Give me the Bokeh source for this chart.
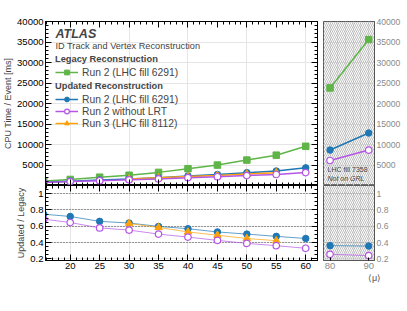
from bokeh.plotting import figure
from bokeh.models import (Range1d, LinearAxis, FixedTicker,
                          PrintfTickFormatter, Legend, LegendItem, Label, BoxAnnotation, Grid)
from bokeh.layouts import gridplot
from bokeh.embed import file_html
from bokeh.resources import INLINE

# ---------------- data ----------------
mu = [15.5, 20, 25, 30, 35, 40, 45, 50, 55, 60]
mu_run3 = [30, 35, 40, 45, 50, 55]
mu_fill7358 = [80, 90]

legacy_run2 = [1050, 1470, 2030, 2500, 3200, 4100, 4980, 6200, 7400, 9560]
updated_run2 = [790, 1060, 1340, 1600, 1910, 2330, 2680, 3130, 3530, 4300]
updated_nolrt = [720, 950, 1180, 1380, 1610, 1910, 2130, 2420, 2680, 3160]
updated_run3 = [1590, 1870, 2170, 2440, 2790, 3120]

legacy_7358 = [23800, 35600]
updated_7358 = [8650, 12800]
nolrt_7358 = [6100, 8650]

ratio_run2 = [0.748, 0.72, 0.66, 0.64, 0.598, 0.57, 0.53, 0.504, 0.476, 0.45]
ratio_nolrt = [0.687, 0.646, 0.58, 0.553, 0.504, 0.467, 0.427, 0.39, 0.362, 0.33]
ratio_run3 = [0.634, 0.585, 0.53, 0.49, 0.45, 0.423]
ratio_run2_7358 = [0.362, 0.357]
ratio_nolrt_7358 = [0.256, 0.24]

cpu_ticks = [5000, 10000, 15000, 20000, 25000, 30000, 35000, 40000]
cpu_minor = list(range(0, 40001, 1000))
ratio_ticks = [0.2, 0.4, 0.6, 0.8, 1.0]
ratio_minor = [round(0.05 * i, 2) for i in range(3, 23)]
grid_ticks = [0.4, 0.6, 0.8, 1.0]
mu_major = [20, 25, 30, 35, 40, 45, 50, 55, 60]
mu_minor = list(range(16, 63))
fill_ticks = [80, 90]

GREEN, BLUE, PURPLE, ORANGE = "#5fb548", "#1f77b4", "#b455e6", "#ffa20a"
FONT = "Liberation Sans"
GREY = "#8a8a8a"

# ---------------- helpers ----------------
def base_fig(fw, fh, xr, yr, **kw):
    p = figure(frame_width=fw, frame_height=fh, x_range=xr, y_range=yr,
               output_backend="svg", toolbar_location=None,
               x_axis_location=None, y_axis_location=None, **kw)
    p.outline_line_color = "black"
    p.background_fill_color = "white"
    p.border_fill_color = "white"
    return p

def axis(ticker, size="9.5px", color="black", tick_in=6, minor_in=3, **kw):
    a = LinearAxis(ticker=ticker, **kw)
    a.major_tick_in = tick_in
    a.major_tick_out = 0
    a.minor_tick_in = minor_in
    a.minor_tick_out = 0
    a.axis_line_color = "black"
    a.major_tick_line_color = "black"
    a.minor_tick_line_color = "black"
    a.major_label_text_font = FONT
    a.major_label_text_color = color
    a.major_label_text_font_size = size
    a.major_label_standoff = 2
    a.axis_label_text_font = FONT
    a.axis_label_text_font_style = "normal"
    a.axis_label_text_font_size = "9px"
    a.axis_label_standoff = 1
    return a

def tick_only(p, side, majors, minors):
    # label-free tick marks on a frame edge (minor-tick channel only, so no labels exist)
    for pos, length in ((minors, 3), (majors, 6)):
        a = LinearAxis(ticker=FixedTicker(ticks=[], minor_ticks=pos))
        a.major_label_standoff = 0
        a.major_tick_out = 0
        a.major_tick_in = 0
        a.minor_tick_out = 0
        a.minor_tick_in = length
        a.axis_line_color = "black"
        a.minor_tick_line_color = "black"
        p.add_layout(a, side)

xr_main = Range1d(15.8, 62)
xr_fill = Range1d(78.3, 91.5)
yr_cpu = Range1d(0, 40000)
yr_ratio = Range1d(0.18, 1.1)

def x_ticker():
    return FixedTicker(ticks=mu_major, minor_ticks=mu_minor)

# ---------------- top main ----------------
p_top = base_fig(272, 164, xr_main, yr_cpu, min_border_left=40, min_border_right=6,
                 min_border_top=21, min_border_bottom=0)
p_top.add_layout(axis(FixedTicker(ticks=cpu_ticks, minor_ticks=cpu_minor),
                      axis_label="CPU Time / Event [ms]"), "left")
tick_only(p_top, "right", cpu_ticks, cpu_minor)
tick_only(p_top, "above", mu_major, mu_minor)
tick_only(p_top, "below", mu_major, mu_minor)

gl = p_top.line(mu, legacy_run2, color=GREEN, line_width=1.5)
gs = p_top.scatter(mu, legacy_run2, marker="square", size=6.5, color=GREEN)
bl = p_top.line(mu, updated_run2, color=BLUE, line_width=1.5)
bs = p_top.scatter(mu, updated_run2, marker="circle", size=6.5, color=BLUE)
ol = p_top.line(mu_run3, updated_run3, color=ORANGE, line_width=1.5)
os_ = p_top.scatter(mu_run3, updated_run3, marker="triangle", size=7.5, color=ORANGE)
pl = p_top.line(mu, updated_nolrt, color=PURPLE, line_width=1.5)
ps = p_top.scatter(mu, updated_nolrt, marker="circle", size=6.5, line_color=PURPLE,
                   fill_color="white", line_width=1.2)

def legend(title, items, y):
    lg = Legend(items=items, title=title, location=(10, y))
    lg.title_text_font = FONT
    lg.title_text_font_style = "bold"
    lg.title_text_font_size = "9.3px"
    lg.title_standoff = 2
    lg.label_text_font = FONT
    lg.label_text_font_size = "10.3px"
    lg.label_height = 12
    lg.glyph_height = 12
    lg.glyph_width = 23
    lg.label_standoff = 4
    lg.spacing = 0
    lg.padding = 0
    lg.margin = 0
    lg.border_line_alpha = 0
    lg.background_fill_alpha = 0
    return lg

p_top.add_layout(legend("Legacy Reconstruction",
                        [LegendItem(label="Run 2 (LHC fill 6291)", renderers=[gl, gs])], 107))
p_top.add_layout(legend("Updated Reconstruction",
                        [LegendItem(label="Run 2 (LHC fill 6291)", renderers=[bl, bs]),
                         LegendItem(label="Run 2 without LRT", renderers=[pl, ps]),
                         LegendItem(label="Run 3 (LHC fill 8112)", renderers=[ol, os_])], 56))

p_top.add_layout(Label(x=10, y=151.5, x_units="screen", y_units="screen", text="ATLAS",
                       text_font=FONT, text_font_style="bold italic", text_font_size="12.5px",
                       text_baseline="middle"))
p_top.add_layout(Label(x=10, y=139.3, x_units="screen", y_units="screen",
                       text="ID Track and Vertex Reconstruction",
                       text_font=FONT, text_font_size="9.2px", text_baseline="middle"))

# ---------------- top right ----------------
p_tr = base_fig(51, 164, xr_fill, yr_cpu, min_border_left=0, min_border_right=27,
                min_border_top=21, min_border_bottom=0)
p_tr.outline_line_color = "#555555"
p_tr.add_layout(BoxAnnotation(fill_alpha=0, line_alpha=0, hatch_pattern="\\", hatch_color="#a0a0a0",
                              hatch_scale=4, hatch_weight=0.7, level="underlay"))
ra = axis(FixedTicker(ticks=cpu_ticks), size="8.6px", color=GREY, tick_in=0, minor_in=0)
ra.axis_line_color = "#555555"
p_tr.add_layout(ra, "right")
p_tr.line(mu_fill7358, legacy_7358, color=GREEN, line_width=1.5)
p_tr.scatter(mu_fill7358, legacy_7358, marker="square", size=6.5, color=GREEN)
p_tr.line(mu_fill7358, updated_7358, color=BLUE, line_width=1.5)
p_tr.scatter(mu_fill7358, updated_7358, marker="circle", size=6.5, color=BLUE)
p_tr.line(mu_fill7358, nolrt_7358, color=PURPLE, line_width=1.5)
p_tr.scatter(mu_fill7358, nolrt_7358, marker="circle", size=6.5, line_color=PURPLE,
             fill_color="white", line_width=1.2)
p_tr.add_layout(Label(x=4, y=16, x_units="screen", y_units="screen", text="LHC fill 7358",
                      text_font=FONT, text_font_size="7px", text_color="#444444",
                      text_baseline="middle"))
p_tr.add_layout(Label(x=4, y=7, x_units="screen", y_units="screen", text="Not on GRL",
                      text_font=FONT, text_font_size="7px", text_font_style="italic",
                      text_color="#444444", text_baseline="middle"))

# ---------------- bottom main ----------------
p_bot = base_fig(272, 75, xr_main, yr_ratio, min_border_left=40, min_border_right=6,
                 min_border_top=0, min_border_bottom=28)
p_bot.add_layout(Grid(dimension=1, ticker=FixedTicker(ticks=grid_ticks),
                      grid_line_color="#444444", grid_line_dash="1 2", grid_line_width=1))
p_bot.add_layout(axis(FixedTicker(ticks=ratio_ticks, minor_ticks=ratio_minor),
                      formatter=PrintfTickFormatter(format="%g"),
                      axis_label="Updated / Legacy"), "left")
tick_only(p_bot, "right", ratio_ticks, ratio_minor)
tick_only(p_bot, "above", mu_major, mu_minor)
p_bot.add_layout(axis(x_ticker()), "below")

p_bot.line(mu, ratio_run2, color=BLUE, line_width=1, line_alpha=0.7)
p_bot.scatter(mu, ratio_run2, marker="circle", size=6.5, color=BLUE)
p_bot.line(mu_run3, ratio_run3, color=ORANGE, line_width=1, line_alpha=0.7)
p_bot.scatter(mu_run3, ratio_run3, marker="triangle", size=7.5, color=ORANGE)
p_bot.line(mu, ratio_nolrt, color=PURPLE, line_width=1, line_alpha=0.7)
p_bot.scatter(mu, ratio_nolrt, marker="circle", size=6.5, line_color=PURPLE,
              fill_color="white", line_width=1.2)

# ---------------- bottom right ----------------
p_br = base_fig(51, 75, xr_fill, yr_ratio, min_border_left=0, min_border_right=27,
                min_border_top=0, min_border_bottom=28)
p_br.outline_line_color = "#555555"
p_br.add_layout(BoxAnnotation(fill_alpha=0, line_alpha=0, hatch_pattern="\\", hatch_color="#a0a0a0",
                              hatch_scale=4, hatch_weight=0.7, level="underlay"))
p_br.add_layout(Grid(dimension=1, ticker=FixedTicker(ticks=grid_ticks),
                     grid_line_color="#999999", grid_line_dash="1 2", grid_line_width=1))
rb = axis(FixedTicker(ticks=ratio_ticks), formatter=PrintfTickFormatter(format="%g"),
          size="8.6px", color=GREY, tick_in=0, minor_in=0)
rb.axis_line_color = "#555555"
p_br.add_layout(rb, "right")
bx = axis(FixedTicker(ticks=fill_ticks), color=GREY, tick_in=3, minor_in=0,
          axis_label="⟨μ⟩", axis_label_align="end")
bx.axis_line_color = "#555555"
bx.axis_label_text_color = "#555555"
p_br.add_layout(bx, "below")
p_br.line(mu_fill7358, ratio_run2_7358, color=BLUE, line_width=1, line_alpha=0.7)
p_br.scatter(mu_fill7358, ratio_run2_7358, marker="circle", size=6.5, color=BLUE)
p_br.line(mu_fill7358, ratio_nolrt_7358, color=PURPLE, line_width=1, line_alpha=0.7)
p_br.scatter(mu_fill7358, ratio_nolrt_7358, marker="circle", size=6.5, line_color=PURPLE,
             fill_color="white", line_width=1.2)

grid = gridplot([[p_top, p_tr], [p_bot, p_br]], toolbar_location=None)

open("out.html", "w").write(file_html(grid, INLINE))
